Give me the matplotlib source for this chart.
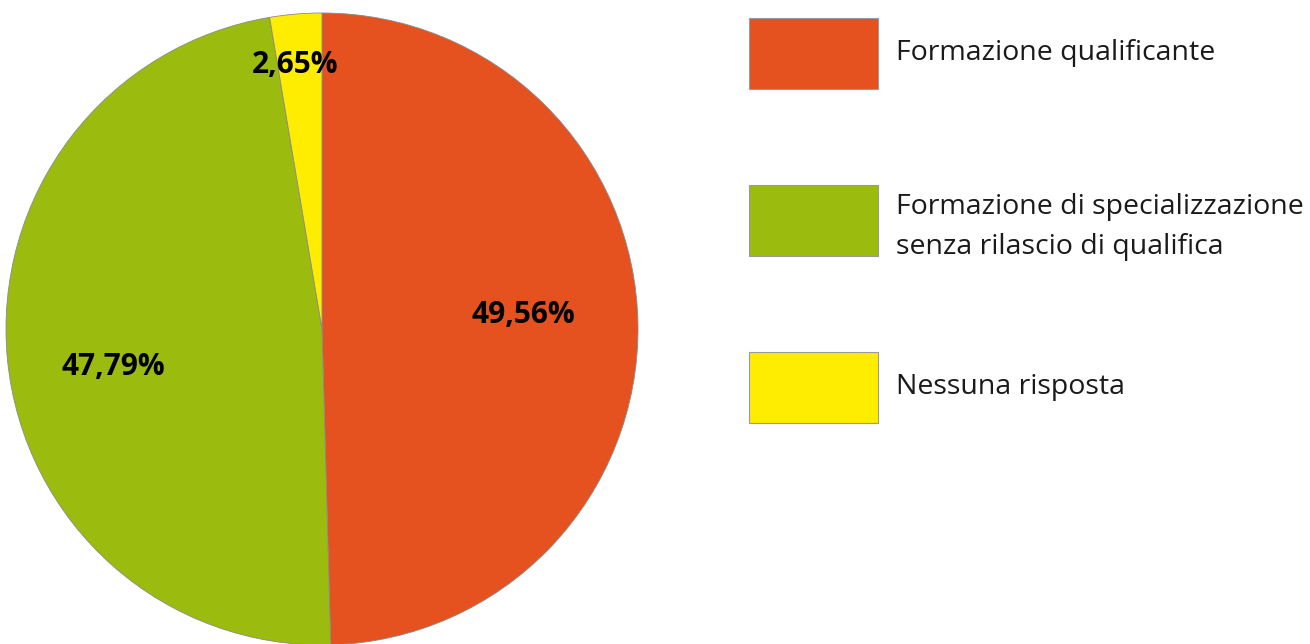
import matplotlib
matplotlib.use("Agg")
import matplotlib.pyplot as plt
from matplotlib.patches import Rectangle
import numpy as np

categories = ["Formazione qualificante",
              "Formazione di specializzazione\nsenza rilascio di qualifica",
              "Nessuna risposta"]
values = [49.56, 47.79, 2.65]
value_labels = ["49,56%", "47,79%", "2,65%"]
colors = ["#E5511F", "#9BBB0E", "#FFED00"]

plt.rcParams['font.family'] = ['Open Sans', 'DejaVu Sans']

W, H = 1310, 644
fig = plt.figure(figsize=(W / 100, H / 100), dpi=100)
fig.patch.set_facecolor("white")

# pie axes: centre (322, 329) px, radius 316 px
cx, cy, r = 322, 329, 316
ax = fig.add_axes([(cx - r) / W, (H - cy - r) / H, 2 * r / W, 2 * r / H])
wedges, _ = ax.pie(values, colors=colors, startangle=90, counterclock=False,
                   radius=1.0,
                   wedgeprops=dict(edgecolor="#8a8a8a", linewidth=0.6))
ax.set_xlim(-1, 1)
ax.set_ylim(-1, 1)
ax.set_aspect("equal")
ax.axis("off")

# value labels: distance from centre and angular nudge from wedge midpoint
label_dist = [0.64, 0.67, 0.84]
label_nudge = [3.2, 4.7, 1.0]
for w, txt, d, nd in zip(wedges, value_labels, label_dist, label_nudge):
    ang = np.deg2rad((w.theta1 + w.theta2) / 2 + nd)
    ax.text(d * np.cos(ang), d * np.sin(ang), txt, ha="center", va="center",
            fontsize=21.5, fontweight="bold", color="black")

# legend
lax = fig.add_axes([0, 0, 1, 1])
lax.set_xlim(0, W)
lax.set_ylim(H, 0)
lax.axis("off")
box_tops = [18, 185, 352]
text_offsets = [35, 42, 35]
for top, off, col, name in zip(box_tops, text_offsets, colors, categories):
    lax.add_patch(Rectangle((749, top), 129, 71, facecolor=col,
                            edgecolor="#9a9a9a", linewidth=0.8))
    lax.text(896, top + off, name, ha="left", va="center", fontsize=20.5,
             color="#1a1a1a", linespacing=1.6)

fig.savefig("out.png", dpi=100)
